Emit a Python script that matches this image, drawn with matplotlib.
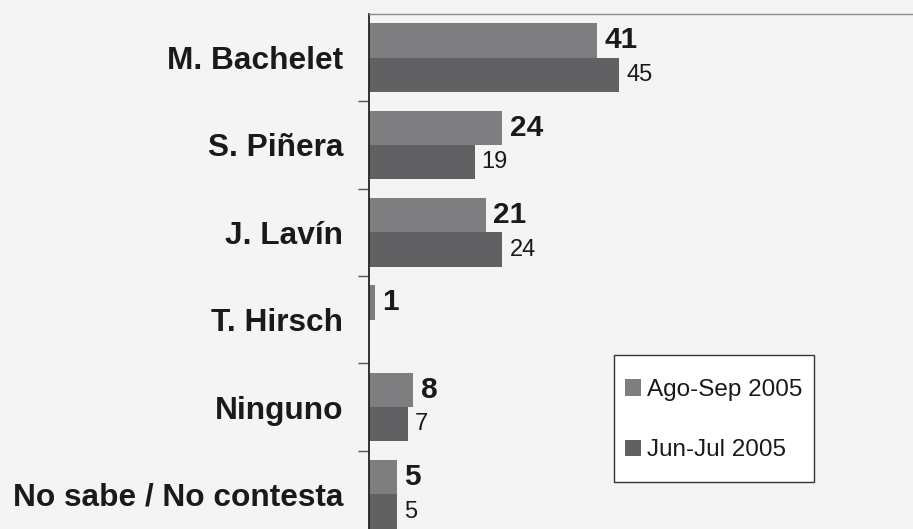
import matplotlib.pyplot as plt
import numpy as np
from matplotlib.patches import Patch, Rectangle

# datos de la encuesta
candidatos = ['M. Bachelet', 'S. Piñera', 'J. Lavín', 'T. Hirsch', 'Ninguno', 'No sabe / No contesta']
ago_sep = [41, 24, 21, 1, 8, 5]
jun_jul = [45, 19, 24, None, 7, 5]
series_names = ['Ago-Sep 2005', 'Jun-Jul 2005']

c_light = '#7e7e81'
c_dark = '#616163'
bg = '#f4f4f4'


def main():
    plt.rcParams['font.family'] = ['Liberation Sans', 'DejaVu Sans']
    W, H = 913, 529
    fig = plt.figure(figsize=(W / 100, H / 100), dpi=100, facecolor=bg)
    # ejes: la parte de abajo y la derecha quedan fuera de la imagen
    ax = fig.add_axes([369 / W, (529 - 538) / H, 556 / W, 524 / H])
    ax.set_facecolor(bg)

    y = np.arange(len(candidatos))
    h = 0.395
    for i, v in enumerate(ago_sep):
        ax.barh(y[i] - h / 2, v, height=h, color=c_light, linewidth=0)
        ax.annotate(str(v), (v, y[i] - h / 2), xytext=(5.5, 0), textcoords='offset points',
                    ha='left', va='center', fontsize=21.5, fontweight='bold', color='#1a1a1a')
    for i, v in enumerate(jun_jul):
        if v is None:
            continue
        ax.barh(y[i] + h / 2, v, height=h, color=c_dark, linewidth=0)
        ax.annotate(str(v), (v, y[i] + h / 2), xytext=(5, 0), textcoords='offset points',
                    ha='left', va='center', fontsize=17, color='#1a1a1a')

    ax.set_xlim(0, 100)
    ax.set_ylim(len(candidatos) - 0.5, -0.5)
    ax.set_xticks([])
    ax.set_yticks(y)
    ax.set_yticklabels(candidatos, fontsize=22.8, fontweight='bold', color='#1a1a1a')
    ax.tick_params(axis='y', which='major', length=0, pad=18.5)
    ax.set_yticks(np.arange(len(candidatos)) + 0.5, minor=True)
    ax.tick_params(axis='y', which='minor', length=8, width=1, color='#555555')

    ax.spines['left'].set_color('#222222')
    ax.spines['left'].set_linewidth(1.3)
    ax.spines['top'].set_color('#8a8a8a')
    ax.spines['top'].set_linewidth(1)
    ax.spines['right'].set_visible(False)
    ax.spines['bottom'].set_visible(False)

    # caja de la leyenda (dibujada aparte para fijar su tamaño)
    fig.add_artist(Rectangle((614 / W, 1 - 482 / H), 200 / W, 127 / H, transform=fig.transFigure,
                             facecolor='white', edgecolor='#333333', linewidth=1, zorder=4))
    handles = [Patch(facecolor=c_light, edgecolor='none'), Patch(facecolor=c_dark, edgecolor='none')]
    leg = fig.legend(handles, series_names, loc='upper left', bbox_to_anchor=(625 / W, 1 - 379 / H),
                     fontsize=17.5, frameon=False,
                     handlelength=0.65, handleheight=0.65, handletextpad=0.25,
                     labelspacing=1.58, borderpad=0, borderaxespad=0)
    leg.set_zorder(5)
    for t in leg.get_texts():
        t.set_color('#1a1a1a')

    fig.savefig('out.png', dpi=100, facecolor=bg)


if __name__ == '__main__':
    main()
